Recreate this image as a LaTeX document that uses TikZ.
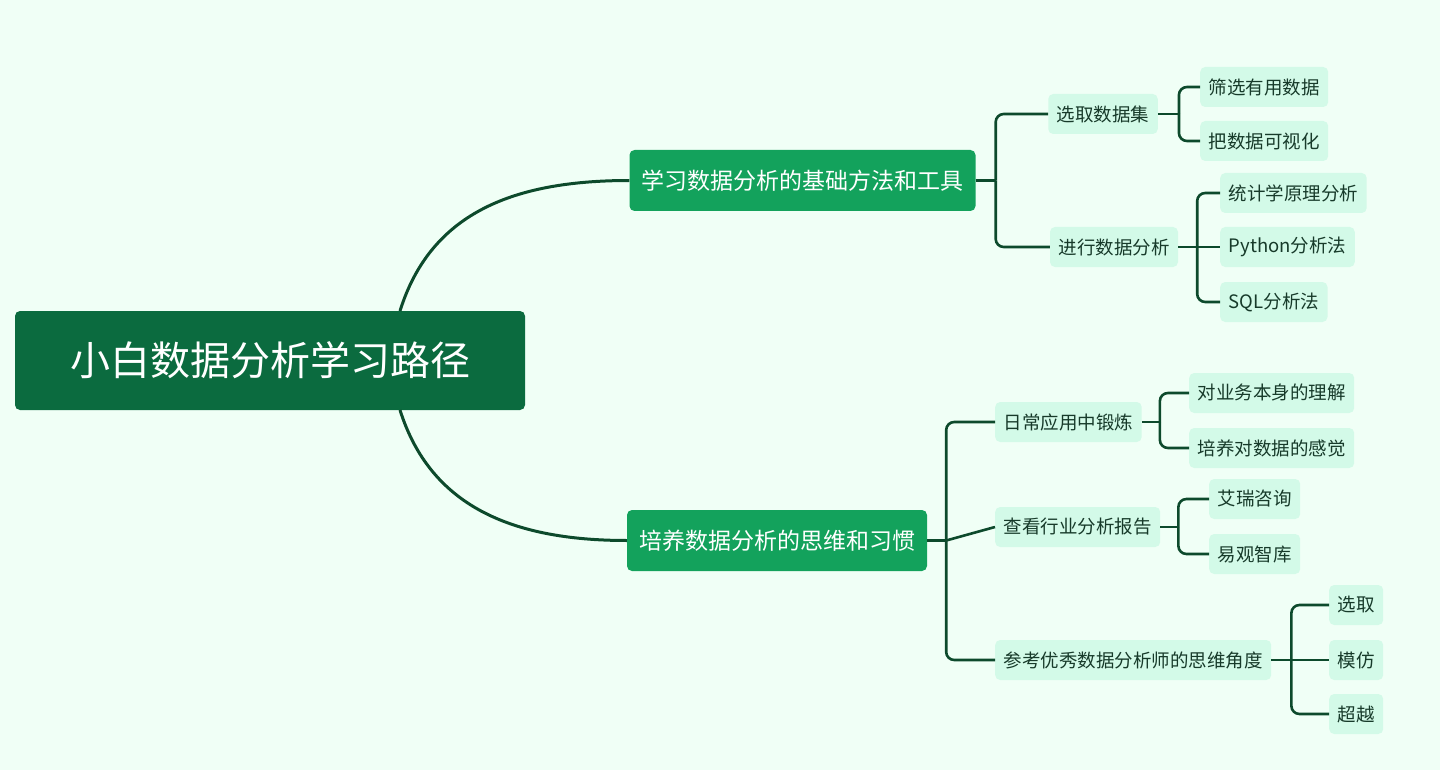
\documentclass[tikz,border=0pt]{standalone}
\usepackage{fontspec}
\setmainfont{Noto Sans CJK SC}
\definecolor{bg}{HTML}{F0FFF6}
\definecolor{rootc}{HTML}{0B6B3F}
\definecolor{lonec}{HTML}{13A25C}
\definecolor{leafc}{HTML}{D3FAE8}
\definecolor{linec}{HTML}{0D4A2C}
\definecolor{txt}{HTML}{173A2A}
\tikzset{
 rootbox/.style={fill=rootc,text=white,rounded corners=5,minimum width=510,minimum height=99,font=\fontsize{40}{44}\selectfont},
 onebox/.style={fill=lonec,text=white,rounded corners=5,inner xsep=12,minimum height=61,font=\fontsize{23}{27}\selectfont},
 leafbox/.style={fill=leafc,text=txt,rounded corners=5,inner xsep=8.5,minimum height=40,font=\fontsize{18.5}{22}\selectfont},
 conn/.style={draw=linec,line width=2.6,rounded corners=8},
 curve/.style={draw=linec,line width=3}
}
\begin{document}
\begin{tikzpicture}[x=1pt,y=-1pt]
\fill[bg] (0,0) rectangle (1440,770);
\useasboundingbox (0,0) rectangle (1440,770);
\node[rootbox] (root) at (270,360.5) {小白数据分析学习路径};
\node[onebox] (a) at (802.5,180.5) {学习数据分析的基础方法和工具};
\node[onebox] (b) at (777,540.5) {培养数据分析的思维和习惯};
\node[leafbox] (a1) at (1103,114) {选取数据集};
\node[leafbox] (a2) at (1114,247) {进行数据分析};
\node[leafbox,anchor=west] (a11) at (1200,87) {筛选有用数据};
\node[leafbox,anchor=west] (a12) at (1200,141) {把数据可视化};
\node[leafbox,anchor=west] (a21) at (1220,193) {统计学原理分析};
\node[leafbox,anchor=west] (a22) at (1220,247) {Python分析法};
\node[leafbox,anchor=west] (a23) at (1220,302) {SQL分析法};
\node[leafbox,anchor=west] (b1) at (995,422) {日常应用中锻炼};
\node[leafbox,anchor=west] (b2) at (995,527) {查看行业分析报告};
\node[leafbox,anchor=west] (b3) at (995,660) {参考优秀数据分析师的思维角度};
\node[leafbox,anchor=west] (b11) at (1189,393) {对业务本身的理解};
\node[leafbox,anchor=west] (b12) at (1189,448) {培养对数据的感觉};
\node[leafbox,anchor=west] (b21) at (1209,499) {艾瑞咨询};
\node[leafbox,anchor=west] (b22) at (1209,554) {易观智库};
\node[leafbox,anchor=west] (b31) at (1329,605) {选取};
\node[leafbox,anchor=west] (b32) at (1329,660) {模仿};
\node[leafbox,anchor=west] (b33) at (1329,714) {超越};
% root curves
\coordinate (rt) at (400,311);
\coordinate (rb) at (400,410);
\draw[curve] (rt) .. controls (430,215) and (510,180.5) .. (a.west);
\draw[curve] (rb) .. controls (430,505) and (510,540.5) .. (b.west);
% brackets
\draw[conn] (a.east) -- ++(20,0) coordinate (ja);
\draw[conn] (ja) |- (a1.west);
\draw[conn] (ja) |- (a2.west);
\draw[conn] (a1.east) -- ++(21,0) coordinate (ja1);
\draw[conn] (ja1) |- (a11.west);
\draw[conn] (ja1) |- (a12.west);
\draw[conn] (a2.east) -- ++(19,0) coordinate (ja2);
\draw[conn] (ja2) |- (a21.west);
\draw[conn] (ja2) |- (a23.west);
\draw[conn] (ja2) -- (a22.west);
\draw[conn] (b.east) -- ++(19,0) coordinate (jb);
\draw[conn] (jb) |- (b1.west);
\draw[conn] (jb) |- (b3.west);
\draw[conn] (jb) -- (b2.west);
\draw[conn] (b1.east) -- ++(18,0) coordinate (jb1);
\draw[conn] (jb1) |- (b11.west);
\draw[conn] (jb1) |- (b12.west);
\draw[conn] (b2.east) -- ++(18,0) coordinate (jb2);
\draw[conn] (jb2) |- (b21.west);
\draw[conn] (jb2) |- (b22.west);
\draw[conn] (b3.east) -- ++(20,0) coordinate (jb3);
\draw[conn] (jb3) |- (b31.west);
\draw[conn] (jb3) |- (b33.west);
\draw[conn] (jb3) -- (b32.west);
\end{tikzpicture}
\end{document}
